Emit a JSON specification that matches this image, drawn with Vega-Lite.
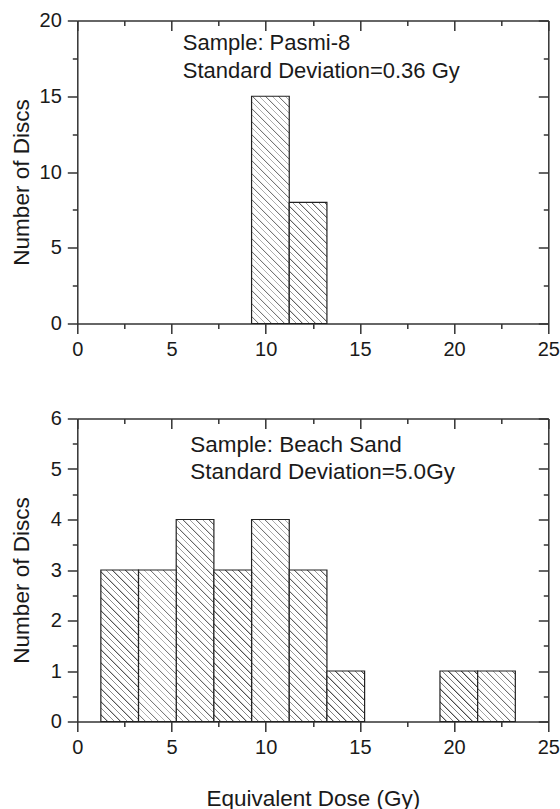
{
"$schema": "https://vega.github.io/schema/vega-lite/v6.json",
"autosize": {"type": "none"},
"padding": {"left": 77.3, "top": 20.5, "right": 482.7, "bottom": 788.5},
"background": "white",
"datasets": {
"top": [{"start": 9.25, "end": 11.25, "count": 15}, {"start": 11.25, "end": 13.25, "count": 8}],
"bottom": [
{"start": 1.25, "end": 3.25, "count": 3}, {"start": 3.25, "end": 5.25, "count": 3}, {"start": 5.25, "end": 7.25, "count": 4},
{"start": 7.25, "end": 9.25, "count": 3}, {"start": 9.25, "end": 11.25, "count": 4}, {"start": 11.25, "end": 13.25, "count": 3},
{"start": 13.25, "end": 15.25, "count": 1}, {"start": 19.25, "end": 21.25, "count": 1}, {"start": 21.25, "end": 23.25, "count": 1}]
},
"spacing": 95,
"bounds": "flush",
"vconcat": [
{
"width": 471, "height": 303,
"data": {"name": "top"},
"layer": [
{"transform": [{"filter": "datum.count === 15"}],
"mark": {"type": "rect", "stroke": "#222", "strokeWidth": 1.2, "fill": {"gradient": "linear", "x1": 0, "y1": 1, "x2": 0.2308, "y2": -0.3919, "stops": [
{"offset":0,"color":"#444"},{"offset":0.005,"color":"#fff"},{"offset":0.02,"color":"#fff"},
{"offset":0.02,"color":"#444"},{"offset":0.025,"color":"#fff"},{"offset":0.04,"color":"#fff"},
{"offset":0.04,"color":"#444"},{"offset":0.045,"color":"#fff"},{"offset":0.06,"color":"#fff"},
{"offset":0.06,"color":"#444"},{"offset":0.065,"color":"#fff"},{"offset":0.08,"color":"#fff"},
{"offset":0.08,"color":"#444"},{"offset":0.085,"color":"#fff"},{"offset":0.1,"color":"#fff"},
{"offset":0.1,"color":"#444"},{"offset":0.105,"color":"#fff"},{"offset":0.12,"color":"#fff"},
{"offset":0.12,"color":"#444"},{"offset":0.125,"color":"#fff"},{"offset":0.14,"color":"#fff"},
{"offset":0.14,"color":"#444"},{"offset":0.145,"color":"#fff"},{"offset":0.16,"color":"#fff"},
{"offset":0.16,"color":"#444"},{"offset":0.165,"color":"#fff"},{"offset":0.18,"color":"#fff"},
{"offset":0.18,"color":"#444"},{"offset":0.185,"color":"#fff"},{"offset":0.2,"color":"#fff"},
{"offset":0.2,"color":"#444"},{"offset":0.205,"color":"#fff"},{"offset":0.22,"color":"#fff"},
{"offset":0.22,"color":"#444"},{"offset":0.225,"color":"#fff"},{"offset":0.24,"color":"#fff"},
{"offset":0.24,"color":"#444"},{"offset":0.245,"color":"#fff"},{"offset":0.26,"color":"#fff"},
{"offset":0.26,"color":"#444"},{"offset":0.265,"color":"#fff"},{"offset":0.28,"color":"#fff"},
{"offset":0.28,"color":"#444"},{"offset":0.285,"color":"#fff"},{"offset":0.3,"color":"#fff"},
{"offset":0.3,"color":"#444"},{"offset":0.305,"color":"#fff"},{"offset":0.32,"color":"#fff"},
{"offset":0.32,"color":"#444"},{"offset":0.325,"color":"#fff"},{"offset":0.34,"color":"#fff"},
{"offset":0.34,"color":"#444"},{"offset":0.345,"color":"#fff"},{"offset":0.36,"color":"#fff"},
{"offset":0.36,"color":"#444"},{"offset":0.365,"color":"#fff"},{"offset":0.38,"color":"#fff"},
{"offset":0.38,"color":"#444"},{"offset":0.385,"color":"#fff"},{"offset":0.4,"color":"#fff"},
{"offset":0.4,"color":"#444"},{"offset":0.405,"color":"#fff"},{"offset":0.42,"color":"#fff"},
{"offset":0.42,"color":"#444"},{"offset":0.425,"color":"#fff"},{"offset":0.44,"color":"#fff"},
{"offset":0.44,"color":"#444"},{"offset":0.445,"color":"#fff"},{"offset":0.46,"color":"#fff"},
{"offset":0.46,"color":"#444"},{"offset":0.465,"color":"#fff"},{"offset":0.48,"color":"#fff"},
{"offset":0.48,"color":"#444"},{"offset":0.485,"color":"#fff"},{"offset":0.5,"color":"#fff"},
{"offset":0.5,"color":"#444"},{"offset":0.505,"color":"#fff"},{"offset":0.52,"color":"#fff"},
{"offset":0.52,"color":"#444"},{"offset":0.525,"color":"#fff"},{"offset":0.54,"color":"#fff"},
{"offset":0.54,"color":"#444"},{"offset":0.545,"color":"#fff"},{"offset":0.56,"color":"#fff"},
{"offset":0.56,"color":"#444"},{"offset":0.565,"color":"#fff"},{"offset":0.58,"color":"#fff"},
{"offset":0.58,"color":"#444"},{"offset":0.585,"color":"#fff"},{"offset":0.6,"color":"#fff"},
{"offset":0.6,"color":"#444"},{"offset":0.605,"color":"#fff"},{"offset":0.62,"color":"#fff"},
{"offset":0.62,"color":"#444"},{"offset":0.625,"color":"#fff"},{"offset":0.64,"color":"#fff"},
{"offset":0.64,"color":"#444"},{"offset":0.645,"color":"#fff"},{"offset":0.66,"color":"#fff"},
{"offset":0.66,"color":"#444"},{"offset":0.665,"color":"#fff"},{"offset":0.68,"color":"#fff"},
{"offset":0.68,"color":"#444"},{"offset":0.685,"color":"#fff"},{"offset":0.7,"color":"#fff"},
{"offset":0.7,"color":"#444"},{"offset":0.705,"color":"#fff"},{"offset":0.72,"color":"#fff"},
{"offset":0.72,"color":"#444"},{"offset":0.725,"color":"#fff"},{"offset":0.74,"color":"#fff"},
{"offset":0.74,"color":"#444"},{"offset":0.745,"color":"#fff"},{"offset":0.76,"color":"#fff"},
{"offset":0.76,"color":"#444"},{"offset":0.765,"color":"#fff"},{"offset":0.78,"color":"#fff"},
{"offset":0.78,"color":"#444"},{"offset":0.785,"color":"#fff"},{"offset":0.8,"color":"#fff"},
{"offset":0.8,"color":"#444"},{"offset":0.805,"color":"#fff"},{"offset":0.82,"color":"#fff"}]}},
"encoding": {
"x": {"field": "start", "type": "quantitative", "scale": {"domain": [0, 25], "nice": false},
"axis": {"orient": "bottom", "values": [0,2.5,5,7.5,10,12.5,15,17.5,20,22.5,25], "labelExpr": "datum.value % 5 === 0 ? format(datum.value, 'd') : ''", "tickSize": {"condition": {"test": "datum.value % 5 === 0", "value": 10}, "value": 5}, "title": null, "labelPadding": 6}},
"x2": {"field": "end"},
"y": {"field": "count", "type": "quantitative", "scale": {"domain": [0, 20], "nice": false},
"axis": {"orient": "left", "values": [0,2.5,5,7.5,10,12.5,15,17.5,20], "labelExpr": "datum.value % 5 === 0 ? format(datum.value, 'd') : ''", "tickSize": {"condition": {"test": "datum.value % 5 === 0", "value": 10}, "value": 5}, "title": "Number of Discs", "titleX": -49, "titleY": 161.5, "titleAngle": -90, "titleBaseline": "alphabetic", "titleAlign": "center", "labelPadding": 6}},
"y2": {"datum": 0}}},
{"transform": [{"filter": "datum.count === 8"}],
"mark": {"type": "rect", "stroke": "#222", "strokeWidth": 1.2, "fill": {"gradient": "linear", "x1": 0, "y1": 1, "x2": 0.7602, "y2": -1.4452, "stops": [
{"offset":0,"color":"#444"},{"offset":0.005,"color":"#fff"},{"offset":0.02,"color":"#fff"},
{"offset":0.02,"color":"#444"},{"offset":0.025,"color":"#fff"},{"offset":0.04,"color":"#fff"},
{"offset":0.04,"color":"#444"},{"offset":0.045,"color":"#fff"},{"offset":0.06,"color":"#fff"},
{"offset":0.06,"color":"#444"},{"offset":0.065,"color":"#fff"},{"offset":0.08,"color":"#fff"},
{"offset":0.08,"color":"#444"},{"offset":0.085,"color":"#fff"},{"offset":0.1,"color":"#fff"},
{"offset":0.1,"color":"#444"},{"offset":0.105,"color":"#fff"},{"offset":0.12,"color":"#fff"},
{"offset":0.12,"color":"#444"},{"offset":0.125,"color":"#fff"},{"offset":0.14,"color":"#fff"},
{"offset":0.14,"color":"#444"},{"offset":0.145,"color":"#fff"},{"offset":0.16,"color":"#fff"},
{"offset":0.16,"color":"#444"},{"offset":0.165,"color":"#fff"},{"offset":0.18,"color":"#fff"},
{"offset":0.18,"color":"#444"},{"offset":0.185,"color":"#fff"},{"offset":0.2,"color":"#fff"},
{"offset":0.2,"color":"#444"},{"offset":0.205,"color":"#fff"},{"offset":0.22,"color":"#fff"},
{"offset":0.22,"color":"#444"},{"offset":0.225,"color":"#fff"},{"offset":0.24,"color":"#fff"},
{"offset":0.24,"color":"#444"},{"offset":0.245,"color":"#fff"},{"offset":0.26,"color":"#fff"},
{"offset":0.26,"color":"#444"},{"offset":0.265,"color":"#fff"},{"offset":0.28,"color":"#fff"},
{"offset":0.28,"color":"#444"},{"offset":0.285,"color":"#fff"},{"offset":0.3,"color":"#fff"},
{"offset":0.3,"color":"#444"},{"offset":0.305,"color":"#fff"},{"offset":0.32,"color":"#fff"},
{"offset":0.32,"color":"#444"},{"offset":0.325,"color":"#fff"},{"offset":0.34,"color":"#fff"},
{"offset":0.34,"color":"#444"},{"offset":0.345,"color":"#fff"},{"offset":0.36,"color":"#fff"},
{"offset":0.36,"color":"#444"},{"offset":0.365,"color":"#fff"},{"offset":0.38,"color":"#fff"},
{"offset":0.38,"color":"#444"},{"offset":0.385,"color":"#fff"},{"offset":0.4,"color":"#fff"},
{"offset":0.4,"color":"#444"},{"offset":0.405,"color":"#fff"},{"offset":0.42,"color":"#fff"},
{"offset":0.42,"color":"#444"},{"offset":0.425,"color":"#fff"},{"offset":0.44,"color":"#fff"},
{"offset":0.44,"color":"#444"},{"offset":0.445,"color":"#fff"},{"offset":0.46,"color":"#fff"},
{"offset":0.46,"color":"#444"},{"offset":0.465,"color":"#fff"},{"offset":0.48,"color":"#fff"},
{"offset":0.48,"color":"#444"},{"offset":0.485,"color":"#fff"},{"offset":0.5,"color":"#fff"}]}},
"encoding": {
"x": {"field": "start", "type": "quantitative", "scale": {"domain": [0, 25], "nice": false}, "axis": null},
"x2": {"field": "end"},
"y": {"field": "count", "type": "quantitative", "scale": {"domain": [0, 20], "nice": false}, "axis": null},
"y2": {"datum": 0}}},
{"data": {"values": [{"k": 1}]},
"mark": {"type": "text", "align": "left", "baseline": "alphabetic", "font": "Liberation Sans", "fontSize": 22, "lineHeight": 27.6, "fill": "#1a1a1a"},
"encoding": {
"x": {"datum": 5.6, "type": "quantitative", "scale": {"domain": [0, 25], "nice": false}, "axis": null},
"y": {"datum": 18.05, "type": "quantitative", "scale": {"domain": [0, 20], "nice": false}, "axis": null},
"text": {"value": ["Sample: Pasmi-8", "Standard Deviation=0.36 Gy"]}}},
{"mark": {"type": "point", "opacity": 0},
"encoding": {
"x": {"field": "start", "type": "quantitative", "scale": {"domain": [0, 25], "nice": false},
"axis": {"orient": "top", "values": [0,2.5,5,7.5,10,12.5,15,17.5,20,22.5,25], "labels": false, "tickSize": {"condition": {"test": "datum.value % 5 === 0", "value": -10}, "value": -5}, "title": null}},
"y": {"field": "count", "type": "quantitative", "scale": {"domain": [0, 20], "nice": false},
"axis": {"orient": "right", "values": [0,2.5,5,7.5,10,12.5,15,17.5,20], "labels": false, "tickSize": {"condition": {"test": "datum.value % 5 === 0", "value": -10}, "value": -5}, "title": null}}}}
],
"resolve": {"axis": {"x": "independent", "y": "independent"}}
},
{
"width": 471, "height": 303,
"data": {"name": "bottom"},
"layer": [
{"transform": [{"filter": "datum.count === 4"}],
"mark": {"type": "rect", "stroke": "#222", "strokeWidth": 1.2, "fill": {"gradient": "linear", "x1": 0, "y1": 1, "x2": 0.29, "y2": -0.5548, "stops": [
{"offset":0,"color":"#444"},{"offset":0.005,"color":"#fff"},{"offset":0.02,"color":"#fff"},
{"offset":0.02,"color":"#444"},{"offset":0.025,"color":"#fff"},{"offset":0.04,"color":"#fff"},
{"offset":0.04,"color":"#444"},{"offset":0.045,"color":"#fff"},{"offset":0.06,"color":"#fff"},
{"offset":0.06,"color":"#444"},{"offset":0.065,"color":"#fff"},{"offset":0.08,"color":"#fff"},
{"offset":0.08,"color":"#444"},{"offset":0.085,"color":"#fff"},{"offset":0.1,"color":"#fff"},
{"offset":0.1,"color":"#444"},{"offset":0.105,"color":"#fff"},{"offset":0.12,"color":"#fff"},
{"offset":0.12,"color":"#444"},{"offset":0.125,"color":"#fff"},{"offset":0.14,"color":"#fff"},
{"offset":0.14,"color":"#444"},{"offset":0.145,"color":"#fff"},{"offset":0.16,"color":"#fff"},
{"offset":0.16,"color":"#444"},{"offset":0.165,"color":"#fff"},{"offset":0.18,"color":"#fff"},
{"offset":0.18,"color":"#444"},{"offset":0.185,"color":"#fff"},{"offset":0.2,"color":"#fff"},
{"offset":0.2,"color":"#444"},{"offset":0.205,"color":"#fff"},{"offset":0.22,"color":"#fff"},
{"offset":0.22,"color":"#444"},{"offset":0.225,"color":"#fff"},{"offset":0.24,"color":"#fff"},
{"offset":0.24,"color":"#444"},{"offset":0.245,"color":"#fff"},{"offset":0.26,"color":"#fff"},
{"offset":0.26,"color":"#444"},{"offset":0.265,"color":"#fff"},{"offset":0.28,"color":"#fff"},
{"offset":0.28,"color":"#444"},{"offset":0.285,"color":"#fff"},{"offset":0.3,"color":"#fff"},
{"offset":0.3,"color":"#444"},{"offset":0.305,"color":"#fff"},{"offset":0.32,"color":"#fff"},
{"offset":0.32,"color":"#444"},{"offset":0.325,"color":"#fff"},{"offset":0.34,"color":"#fff"},
{"offset":0.34,"color":"#444"},{"offset":0.345,"color":"#fff"},{"offset":0.36,"color":"#fff"},
{"offset":0.36,"color":"#444"},{"offset":0.365,"color":"#fff"},{"offset":0.38,"color":"#fff"},
{"offset":0.38,"color":"#444"},{"offset":0.385,"color":"#fff"},{"offset":0.4,"color":"#fff"},
{"offset":0.4,"color":"#444"},{"offset":0.405,"color":"#fff"},{"offset":0.42,"color":"#fff"},
{"offset":0.42,"color":"#444"},{"offset":0.425,"color":"#fff"},{"offset":0.44,"color":"#fff"},
{"offset":0.44,"color":"#444"},{"offset":0.445,"color":"#fff"},{"offset":0.46,"color":"#fff"},
{"offset":0.46,"color":"#444"},{"offset":0.465,"color":"#fff"},{"offset":0.48,"color":"#fff"},
{"offset":0.48,"color":"#444"},{"offset":0.485,"color":"#fff"},{"offset":0.5,"color":"#fff"},
{"offset":0.5,"color":"#444"},{"offset":0.505,"color":"#fff"},{"offset":0.52,"color":"#fff"},
{"offset":0.52,"color":"#444"},{"offset":0.525,"color":"#fff"},{"offset":0.54,"color":"#fff"},
{"offset":0.54,"color":"#444"},{"offset":0.545,"color":"#fff"},{"offset":0.56,"color":"#fff"},
{"offset":0.56,"color":"#444"},{"offset":0.565,"color":"#fff"},{"offset":0.58,"color":"#fff"},
{"offset":0.58,"color":"#444"},{"offset":0.585,"color":"#fff"},{"offset":0.6,"color":"#fff"},
{"offset":0.6,"color":"#444"},{"offset":0.605,"color":"#fff"},{"offset":0.62,"color":"#fff"},
{"offset":0.62,"color":"#444"},{"offset":0.625,"color":"#fff"},{"offset":0.64,"color":"#fff"},
{"offset":0.64,"color":"#444"},{"offset":0.645,"color":"#fff"},{"offset":0.66,"color":"#fff"},
{"offset":0.66,"color":"#444"},{"offset":0.665,"color":"#fff"},{"offset":0.68,"color":"#fff"},
{"offset":0.68,"color":"#444"},{"offset":0.685,"color":"#fff"},{"offset":0.7,"color":"#fff"},
{"offset":0.7,"color":"#444"},{"offset":0.705,"color":"#fff"},{"offset":0.72,"color":"#fff"},
{"offset":0.72,"color":"#444"},{"offset":0.725,"color":"#fff"},{"offset":0.74,"color":"#fff"}]}},
"encoding": {
"x": {"field": "start", "type": "quantitative", "scale": {"domain": [0, 25], "nice": false},
"axis": {"orient": "bottom", "values": [0,2.5,5,7.5,10,12.5,15,17.5,20,22.5,25], "labelExpr": "datum.value % 5 === 0 ? format(datum.value, 'd') : ''", "tickSize": {"condition": {"test": "datum.value % 5 === 0", "value": 10}, "value": 5}, "title": "Equivalent Dose (Gy)", "titleY": 83.5, "titleBaseline": "alphabetic", "titleAlign": "center", "labelPadding": 6}},
"x2": {"field": "end"},
"y": {"field": "count", "type": "quantitative", "scale": {"domain": [0, 6], "nice": false},
"axis": {"orient": "left", "values": [0,0.5,1,1.5,2,2.5,3,3.5,4,4.5,5,5.5,6], "labelExpr": "datum.value % 1 === 0 ? format(datum.value, 'd') : ''", "tickSize": {"condition": {"test": "datum.value % 1 === 0", "value": 10}, "value": 5}, "title": "Number of Discs", "titleX": -49, "titleY": 161.5, "titleAngle": -90, "titleBaseline": "alphabetic", "titleAlign": "center", "labelPadding": 6}},
"y2": {"datum": 0}}},
{"transform": [{"filter": "datum.count === 3"}],
"mark": {"type": "rect", "stroke": "#222", "strokeWidth": 1.2, "fill": {"gradient": "linear", "x1": 0, "y1": 1, "x2": 0.5025, "y2": -1.0203, "stops": [
{"offset":0,"color":"#444"},{"offset":0.005,"color":"#fff"},{"offset":0.02,"color":"#fff"},
{"offset":0.02,"color":"#444"},{"offset":0.025,"color":"#fff"},{"offset":0.04,"color":"#fff"},
{"offset":0.04,"color":"#444"},{"offset":0.045,"color":"#fff"},{"offset":0.06,"color":"#fff"},
{"offset":0.06,"color":"#444"},{"offset":0.065,"color":"#fff"},{"offset":0.08,"color":"#fff"},
{"offset":0.08,"color":"#444"},{"offset":0.085,"color":"#fff"},{"offset":0.1,"color":"#fff"},
{"offset":0.1,"color":"#444"},{"offset":0.105,"color":"#fff"},{"offset":0.12,"color":"#fff"},
{"offset":0.12,"color":"#444"},{"offset":0.125,"color":"#fff"},{"offset":0.14,"color":"#fff"},
{"offset":0.14,"color":"#444"},{"offset":0.145,"color":"#fff"},{"offset":0.16,"color":"#fff"},
{"offset":0.16,"color":"#444"},{"offset":0.165,"color":"#fff"},{"offset":0.18,"color":"#fff"},
{"offset":0.18,"color":"#444"},{"offset":0.185,"color":"#fff"},{"offset":0.2,"color":"#fff"},
{"offset":0.2,"color":"#444"},{"offset":0.205,"color":"#fff"},{"offset":0.22,"color":"#fff"},
{"offset":0.22,"color":"#444"},{"offset":0.225,"color":"#fff"},{"offset":0.24,"color":"#fff"},
{"offset":0.24,"color":"#444"},{"offset":0.245,"color":"#fff"},{"offset":0.26,"color":"#fff"},
{"offset":0.26,"color":"#444"},{"offset":0.265,"color":"#fff"},{"offset":0.28,"color":"#fff"},
{"offset":0.28,"color":"#444"},{"offset":0.285,"color":"#fff"},{"offset":0.3,"color":"#fff"},
{"offset":0.3,"color":"#444"},{"offset":0.305,"color":"#fff"},{"offset":0.32,"color":"#fff"},
{"offset":0.32,"color":"#444"},{"offset":0.325,"color":"#fff"},{"offset":0.34,"color":"#fff"},
{"offset":0.34,"color":"#444"},{"offset":0.345,"color":"#fff"},{"offset":0.36,"color":"#fff"},
{"offset":0.36,"color":"#444"},{"offset":0.365,"color":"#fff"},{"offset":0.38,"color":"#fff"},
{"offset":0.38,"color":"#444"},{"offset":0.385,"color":"#fff"},{"offset":0.4,"color":"#fff"},
{"offset":0.4,"color":"#444"},{"offset":0.405,"color":"#fff"},{"offset":0.42,"color":"#fff"},
{"offset":0.42,"color":"#444"},{"offset":0.425,"color":"#fff"},{"offset":0.44,"color":"#fff"},
{"offset":0.44,"color":"#444"},{"offset":0.445,"color":"#fff"},{"offset":0.46,"color":"#fff"},
{"offset":0.46,"color":"#444"},{"offset":0.465,"color":"#fff"},{"offset":0.48,"color":"#fff"},
{"offset":0.48,"color":"#444"},{"offset":0.485,"color":"#fff"},{"offset":0.5,"color":"#fff"},
{"offset":0.5,"color":"#444"},{"offset":0.505,"color":"#fff"},{"offset":0.52,"color":"#fff"},
{"offset":0.52,"color":"#444"},{"offset":0.525,"color":"#fff"},{"offset":0.54,"color":"#fff"},
{"offset":0.54,"color":"#444"},{"offset":0.545,"color":"#fff"},{"offset":0.56,"color":"#fff"},
{"offset":0.56,"color":"#444"},{"offset":0.565,"color":"#fff"},{"offset":0.58,"color":"#fff"},
{"offset":0.58,"color":"#444"},{"offset":0.585,"color":"#fff"},{"offset":0.6,"color":"#fff"}]}},
"encoding": {
"x": {"field": "start", "type": "quantitative", "scale": {"domain": [0, 25], "nice": false}, "axis": null},
"x2": {"field": "end"},
"y": {"field": "count", "type": "quantitative", "scale": {"domain": [0, 6], "nice": false}, "axis": null},
"y2": {"datum": 0}}},
{"transform": [{"filter": "datum.count === 1"}],
"mark": {"type": "rect", "stroke": "#222", "strokeWidth": 1.2, "fill": {"gradient": "linear", "x1": 0, "y1": 1, "x2": 3.0846, "y2": -3.1341, "stops": [
{"offset":0,"color":"#444"},{"offset":0.005,"color":"#fff"},{"offset":0.02,"color":"#fff"},
{"offset":0.02,"color":"#444"},{"offset":0.025,"color":"#fff"},{"offset":0.04,"color":"#fff"},
{"offset":0.04,"color":"#444"},{"offset":0.045,"color":"#fff"},{"offset":0.06,"color":"#fff"},
{"offset":0.06,"color":"#444"},{"offset":0.065,"color":"#fff"},{"offset":0.08,"color":"#fff"},
{"offset":0.08,"color":"#444"},{"offset":0.085,"color":"#fff"},{"offset":0.1,"color":"#fff"},
{"offset":0.1,"color":"#444"},{"offset":0.105,"color":"#fff"},{"offset":0.12,"color":"#fff"},
{"offset":0.12,"color":"#444"},{"offset":0.125,"color":"#fff"},{"offset":0.14,"color":"#fff"},
{"offset":0.14,"color":"#444"},{"offset":0.145,"color":"#fff"},{"offset":0.16,"color":"#fff"},
{"offset":0.16,"color":"#444"},{"offset":0.165,"color":"#fff"},{"offset":0.18,"color":"#fff"},
{"offset":0.18,"color":"#444"},{"offset":0.185,"color":"#fff"},{"offset":0.2,"color":"#fff"},
{"offset":0.2,"color":"#444"},{"offset":0.205,"color":"#fff"},{"offset":0.22,"color":"#fff"},
{"offset":0.22,"color":"#444"},{"offset":0.225,"color":"#fff"},{"offset":0.24,"color":"#fff"},
{"offset":0.24,"color":"#444"},{"offset":0.245,"color":"#fff"},{"offset":0.26,"color":"#fff"},
{"offset":0.26,"color":"#444"},{"offset":0.265,"color":"#fff"},{"offset":0.28,"color":"#fff"}]}},
"encoding": {
"x": {"field": "start", "type": "quantitative", "scale": {"domain": [0, 25], "nice": false}, "axis": null},
"x2": {"field": "end"},
"y": {"field": "count", "type": "quantitative", "scale": {"domain": [0, 6], "nice": false}, "axis": null},
"y2": {"datum": 0}}},
{"data": {"values": [{"k": 1}]},
"mark": {"type": "text", "align": "left", "baseline": "alphabetic", "font": "Liberation Sans", "fontSize": 22.5, "lineHeight": 27.6, "fill": "#1a1a1a"},
"encoding": {
"x": {"datum": 6.0, "type": "quantitative", "scale": {"domain": [0, 25], "nice": false}, "axis": null},
"y": {"datum": 5.34, "type": "quantitative", "scale": {"domain": [0, 6], "nice": false}, "axis": null},
"text": {"value": ["Sample: Beach Sand", "Standard Deviation=5.0Gy"]}}},
{"mark": {"type": "point", "opacity": 0},
"encoding": {
"x": {"field": "start", "type": "quantitative", "scale": {"domain": [0, 25], "nice": false},
"axis": {"orient": "top", "values": [0,2.5,5,7.5,10,12.5,15,17.5,20,22.5,25], "labels": false, "tickSize": {"condition": {"test": "datum.value % 5 === 0", "value": -10}, "value": -5}, "title": null}},
"y": {"field": "count", "type": "quantitative", "scale": {"domain": [0, 6], "nice": false},
"axis": {"orient": "right", "values": [0,0.5,1,1.5,2,2.5,3,3.5,4,4.5,5,5.5,6], "labels": false, "tickSize": {"condition": {"test": "datum.value % 1 === 0", "value": -10}, "value": -5}, "title": null}}}}
],
"resolve": {"axis": {"x": "independent", "y": "independent"}}
}
],
"config": {
"view": {"stroke": null},
"font": "Liberation Sans",
"axis": {"grid": false, "domainColor": "#333", "domainWidth": 1.5, "tickColor": "#333", "tickWidth": 1.5, "labelFont": "Liberation Sans", "labelFontSize": 20, "labelColor": "#1a1a1a", "labelFlush": false, "labelOverlap": false, "labelBound": false, "titleFont": "Liberation Sans", "titleFontSize": 22.5, "titleFontWeight": "normal", "titleColor": "#1a1a1a"}
}
}
